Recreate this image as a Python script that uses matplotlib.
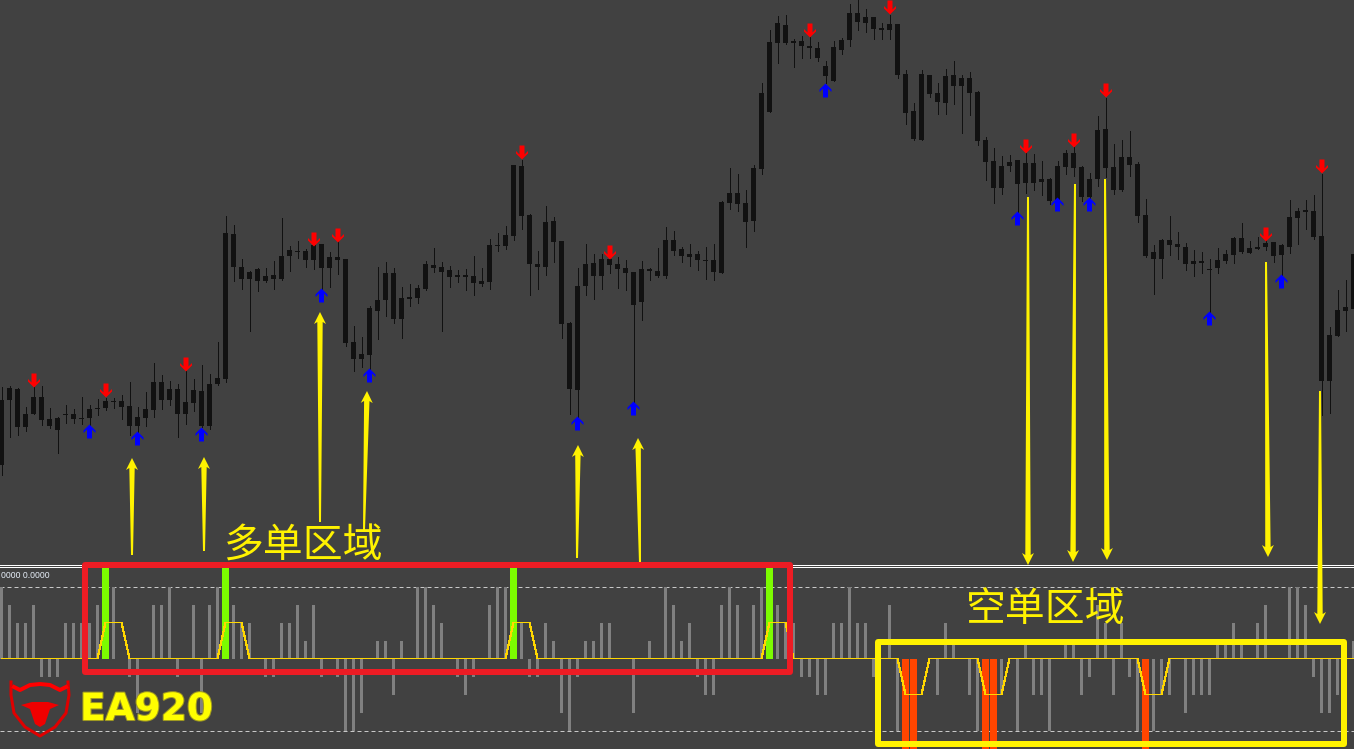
# -*- coding: utf-8 -*-
"""
Candle chart with buy and sell arrows and an indicator window below it.
Prices are given as chart rows, read from the picture (smaller is higher).
"""

import numpy as np
import matplotlib.pyplot as plt
from matplotlib.path import Path
from matplotlib.patches import Polygon, Rectangle
from matplotlib.transforms import Affine2D
import matplotlib.patheffects as path_effects

# Candle data, one entry per bar

CANDLE_HIGH = [387, 386, 388, 407, 387, 386, 408, 417, 405, 409,
               397, 405, 399, 398, 398, 395, 382, 407, 392, 363,
               375, 381, 384, 371, 379, 365, 374, 342, 216, 225,
               259, 271, 268, 268, 261, 218, 246, 241, 249, 240,
               244, 252, 240, 259, 326, 337, 306, 267, 262, 268,
               287, 284, 285, 261, 248, 262, 266, 270, 269, 256,
               268, 239, 233, 226, 165, 160, 214, 251, 206, 217,
               241, 322, 268, 244, 254, 254, 257, 257, 260, 272,
               261, 268, 248, 227, 231, 247, 244, 251, 247, 244,
               201, 168, 174, 190, 165, 83, 30, 16, 15, 39,
               36, 37, 42, 61, 41, 38, 4, 0, 9, 17,
               23, 15, 24, 70, 103, 70, 75, 83, 69, 61,
               75, 72, 91, 137, 148, 156, 155, 160, 153, 154,
               161, 178, 161, 150, 147, 166, 173, 116, 98, 144,
               140, 131, 162, 199, 245, 239, 216, 232, 243, 250,
               252, 259, 248, 250, 237, 223, 241, 237, 240, 242,
               244, 200, 208, 200, 195, 174, 327, 290, 280, 239]
BODY_TOP = [400, 388, 389, 414, 397, 397, 419, 418, 414, 414,
            418, 409, 408, 401, 401, 401, 406, 417, 409, 382,
            382, 389, 389, 402, 390, 391, 384, 378, 233, 234,
            267, 272, 269, 276, 275, 256, 250, 251, 251, 245,
            244, 257, 257, 259, 342, 354, 308, 300, 273, 273,
            298, 297, 288, 264, 265, 267, 270, 275, 275, 276,
            281, 245, 245, 235, 165, 166, 215, 264, 222, 221,
            241, 323, 286, 264, 263, 259, 259, 264, 268, 272,
            269, 269, 271, 240, 240, 249, 254, 254, 260, 260,
            202, 193, 193, 203, 168, 93, 42, 23, 25, 41,
            41, 46, 48, 66, 47, 40, 13, 13, 17, 17,
            28, 24, 24, 74, 111, 74, 75, 93, 76, 75,
            78, 78, 92, 140, 161, 166, 162, 160, 163, 163,
            179, 179, 166, 153, 153, 167, 179, 130, 129, 167,
            157, 157, 164, 215, 252, 240, 240, 244, 247, 261,
            261, 269, 260, 254, 238, 238, 248, 247, 243, 242,
            245, 217, 211, 210, 211, 236, 335, 310, 307, 254]
BODY_BOTTOM = [465, 400, 427, 427, 414, 420, 426, 430, 415, 419,
               419, 418, 409, 408, 402, 407, 426, 426, 418, 410,
               400, 400, 414, 414, 403, 426, 426, 384, 379, 267,
               279, 279, 281, 281, 279, 279, 256, 252, 260, 260,
               268, 268, 260, 343, 359, 359, 355, 311, 300, 319,
               319, 299, 298, 289, 268, 272, 277, 277, 277, 283,
               284, 282, 246, 246, 236, 216, 264, 267, 267, 242,
               324, 389, 390, 286, 276, 276, 265, 269, 273, 305,
               302, 271, 276, 276, 251, 256, 257, 260, 261, 272,
               273, 203, 204, 222, 221, 169, 112, 43, 43, 43,
               46, 48, 58, 76, 81, 50, 40, 22, 23, 29,
               30, 30, 75, 113, 139, 140, 94, 102, 103, 86,
               86, 93, 141, 162, 188, 188, 166, 184, 183, 183,
               182, 201, 200, 167, 168, 197, 197, 179, 168, 190,
               190, 165, 216, 256, 259, 259, 245, 247, 264, 264,
               263, 270, 268, 261, 255, 252, 253, 249, 247, 256,
               255, 247, 218, 212, 237, 381, 381, 336, 311, 309]
CANDLE_LOW = [475, 437, 435, 431, 414, 425, 428, 453, 423, 423,
              424, 425, 415, 410, 408, 419, 435, 432, 426, 417,
              409, 405, 437, 424, 411, 427, 429, 385, 382, 281,
              289, 331, 291, 282, 289, 280, 271, 258, 267, 269,
              289, 287, 274, 346, 371, 367, 370, 339, 316, 323,
              338, 306, 303, 290, 272, 331, 287, 282, 290, 295,
              286, 289, 251, 249, 240, 229, 295, 289, 275, 262,
              338, 414, 417, 295, 299, 289, 273, 288, 290, 403,
              320, 280, 277, 278, 255, 262, 266, 270, 279, 280,
              273, 209, 211, 247, 231, 174, 112, 63, 44, 67,
              58, 58, 61, 83, 81, 54, 46, 30, 32, 39,
              39, 39, 78, 124, 140, 140, 97, 114, 114, 104,
              133, 115, 145, 180, 203, 194, 171, 213, 193, 190,
              195, 204, 200, 174, 176, 201, 200, 186, 177, 194,
              191, 176, 222, 257, 294, 278, 255, 259, 270, 276,
              273, 312, 273, 263, 263, 253, 253, 249, 250, 262,
              275, 253, 244, 229, 239, 415, 413, 336, 331, 314]

# Bars that carry an arrow, with the chart row of the arrow centre

SELL_BARS = [4, 13, 23, 39, 42, 65, 76, 101, 111, 128, 134, 138, 158, 165]
SELL_ROWS = [380, 390, 364, 239, 235, 152, 252, 30, 7, 146, 140, 90, 234, 166]
BUY_BARS = [11, 17, 25, 40, 46, 72, 79, 103, 127, 132, 136, 151, 160]
BUY_ROWS = [431, 438, 434, 295, 375, 423, 408, 90, 218, 204, 204, 318, 281]

# Indicator window

HISTOGRAM = [4, 3, 2, 2, 3, -1, -1, -1, 2, 2,
             2, 2, 3, 0, 4, 0, -1, -3, 0, 3,
             3, 4, -1, 0, 3, -3, 3, 4, 0, 3,
             2, 2, 0, -1, -1, 2, 2, 3, 1, 3,
             -1, 0, -1, -4, -4, -3, 0, 1, 1, -2,
             1, 0, 4, 4, 3, 2, 0, -1, -2, -1,
             0, 3, 4, 4, 0, 2, -1, -1, 2, 1,
             -3, -4, -1, 1, 1, 2, 2, 0, 0, -3,
             0, 1, 0, 4, 3, 1, 2, -1, -2, -2,
             3, 4, 3, 0, 3, 4, 0, 3, 2, 2,
             -1, -1, -2, -2, 2, 2, 4, 2, 2, -1,
             0, 3, -4, 0, 0, 0, 0, -2, 2, 1,
             0, -2, -4, 0, 0, -2, 0, -4, 1, -2,
             -2, -4, 0, 1, 1, -2, -1, 3, 2, -2,
             2, -1, -4, 0, -4, -2, -2, 0, -3, -2,
             -2, -2, 1, 1, 2, 1, 0, 2, 3, 0,
             0, 4, 4, 3, -1, -3, -3, -2, 0, 1]
GREEN_BARS = [13, 28, 64, 96]
ORANGE_BARS = [113, 114, 123, 124, 143]
SIGNAL_BARS = [0, 12, 13, 15, 16, 27, 28, 30, 31, 63, 64, 66, 67, 95, 96, 98,
               99, 112, 113, 115, 116, 122, 123, 125, 126, 142, 143, 145, 146,
               169]
SIGNAL_VALUES = [0, 0, 2, 2, 0, 0, 2, 2, 0, 0, 2, 2, 0, 0, 2, 2,
                 0, 0, -2, -2, 0, 0, -2, -2, 0, 0, -2, -2, 0,
                 0]
LEVELS = [4, -4]

# Hand drawn yellow arrows: tail x, tail y, tip x, tip y

ARROW_TAIL_X = [132, 204, 320, 364, 577, 640, 1028, 1075, 1105, 1266, 1320]
ARROW_TAIL_Y = [555, 551, 522, 530, 558, 563, 197, 184, 179, 262, 391]
ARROW_TIP_X = [132, 204, 320, 367, 578, 638, 1028, 1073, 1107, 1268, 1320]
ARROW_TIP_Y = [458, 457, 312, 391, 445, 438, 565, 562, 560, 557, 624]

# Styles

WIDTH, HEIGHT = 1354, 749
BACKGROUND = '#414141'
CANDLE = '#111111'
YELLOW = '#fff200'
BOX_RED = '#ed1c24'
PIXEL = 0.72  # one pixel in points at dpi 100
FIRST_BAR_X = 1.5
BAR_STEP = 8.

# Function definitions


def arrow_marker():
    """Returns the up arrow as a Path for the markers"""
    return Path([(-0.5, 7), (5.5, 1), (5.5, -1.5), (2, 2), (2, -7), (-3, -7),
                 (-3, 2), (-6.5, -1.5), (-6.5, 1), (-0.5, 7)], closed=True)


def tapered_arrow(axis, tail, tip):
    """Draws a yellow arrow which gets wider towards the head
    axis (matplotlib axes in pixels)
    tail, tip (x, y tuples)
    """
    tail = np.array(tail, dtype=float)
    tip = np.array(tip, dtype=float)
    along = (tip - tail) / np.hypot(*(tip - tail))
    across = np.array([-along[1], along[0]])
    neck = tip - 12. * along
    shaft = neck + 2. * along
    points = [tail + 1. * across, shaft + 2.7 * across, neck + 6. * across,
              tip, neck - 6. * across, shaft - 2.7 * across, tail - 1. * across]
    axis.add_patch(Polygon(points, closed=True, fc=YELLOW, ec='none', zorder=6))


# Main code

FIGURE = plt.figure(figsize=(WIDTH / 100., HEIGHT / 100.), dpi=100,
                    facecolor=BACKGROUND)

BAR_LIMITS = (-FIRST_BAR_X / BAR_STEP, (WIDTH - FIRST_BAR_X) / BAR_STEP)
BARS = np.arange(len(CANDLE_HIGH))

# Price window, its rows are the same as pixel rows

PRICE = FIGURE.add_axes([0, 0, 1, 1], facecolor='none')
PRICE.set_xlim(BAR_LIMITS)
PRICE.set_ylim(HEIGHT, 0)
PRICE.axis('off')

PRICE.vlines(BARS, CANDLE_HIGH, CANDLE_LOW, colors=CANDLE, linewidth=PIXEL,
             antialiased=False, zorder=2)
PRICE.bar(BARS, np.array(BODY_BOTTOM) - np.array(BODY_TOP), bottom=BODY_TOP,
          width=5. / BAR_STEP, color=CANDLE, linewidth=0, antialiased=False,
          zorder=3)

UP_ARROW = arrow_marker().transformed(Affine2D().translate(-0.5, 0))
DOWN_ARROW = arrow_marker().transformed(Affine2D().scale(1, -1))
PRICE.plot(SELL_BARS, SELL_ROWS, linestyle='none', marker=DOWN_ARROW,
           markersize=14 * PIXEL, color='#ff0000', markeredgewidth=0, zorder=4)
PRICE.plot(BUY_BARS, BUY_ROWS, linestyle='none', marker=UP_ARROW,
           markersize=14 * PIXEL, color='#0000ff', markeredgewidth=0, zorder=4)

# Indicator window, 18 pixels per unit around the zero line at row 658

INDICATOR = FIGURE.add_axes([0, 0, 1, (HEIGHT - 568.) / HEIGHT],
                            facecolor='none')
INDICATOR.set_xlim(BAR_LIMITS)
INDICATOR.set_ylim((658.5 - HEIGHT) / 18., (658.5 - 568.) / 18.)
INDICATOR.axis('off')

INDICATOR.bar(BARS, HISTOGRAM, width=3. / BAR_STEP, color='#808080',
              linewidth=0, antialiased=False, zorder=2)
INDICATOR.bar(GREEN_BARS, [6] * len(GREEN_BARS), width=7. / BAR_STEP,
              color='#7cfc00', linewidth=0, antialiased=False, zorder=3)
INDICATOR.bar(ORANGE_BARS, [-6] * len(ORANGE_BARS), width=7. / BAR_STEP,
              color='#ff4500', linewidth=0, antialiased=False, zorder=3)
INDICATOR.plot(SIGNAL_BARS, SIGNAL_VALUES, c='#ffd700', linewidth=PIXEL,
               antialiased=False, zorder=4)
for level in LEVELS:
    INDICATOR.axhline(level, c='#c8c8c8', linewidth=PIXEL, dashes=[4, 3],
                      zorder=1)

# Everything drawn over the chart, in pixels

OVERLAY = FIGURE.add_axes([0, 0, 1, 1], facecolor='none')
OVERLAY.set_xlim(0, WIDTH)
OVERLAY.set_ylim(HEIGHT, 0)
OVERLAY.axis('off')

OVERLAY.hlines([565, 567], 0, WIDTH, colors='white', linewidth=PIXEL,
               antialiased=False, zorder=1)
OVERLAY.text(1, 576, '0000 0.0000', color='#e8f0fa', fontsize=6.2,
             family='Liberation Sans', va='center', ha='left', zorder=5)

for index, tail_x in enumerate(ARROW_TAIL_X):
    tapered_arrow(OVERLAY, (tail_x, ARROW_TAIL_Y[index]),
                  (ARROW_TIP_X[index], ARROW_TIP_Y[index]))

OVERLAY.add_patch(Rectangle((85, 564.5), 705, 107.5, fc='none', ec=BOX_RED,
                            linewidth=6 * PIXEL, joinstyle='round', zorder=7))
OVERLAY.add_patch(Rectangle((878, 642), 466, 102, fc='none', ec=YELLOW,
                            linewidth=6 * PIXEL, joinstyle='round', zorder=7))

CJK = ['Noto Sans CJK SC', 'DejaVu Sans']
OVERLAY.text(303, 547, '多单区域', color=YELLOW, fontsize=28.7, family=CJK,
             ha='center', va='center', zorder=8)
OVERLAY.text(1046, 610, '空单区域', color=YELLOW, fontsize=28.7, family=CJK,
             ha='center', va='center', zorder=8)

# Logo

SHIELD_X = [11, 11, 14, 25, 40, 55, 66, 69, 68]
SHIELD_Y = [682, 695, 713, 727, 736, 727, 713, 695, 682]
HORNS_X = [14, 20, 30, 40, 50, 60, 66]
HORNS_Y = [687, 690, 685, 684, 685, 690, 687]
HEAD_X = [21, 32, 48, 59, 50, 45, 40, 35, 30]
HEAD_Y = [705, 702, 702, 705, 709, 724, 727, 724, 709]
OVERLAY.plot(SHIELD_X, SHIELD_Y, c='#e00000', linewidth=3 * PIXEL, zorder=9)
OVERLAY.plot(HORNS_X, HORNS_Y, c='#ff0000', linewidth=4 * PIXEL, zorder=9)
OVERLAY.add_patch(Polygon(np.column_stack((HEAD_X, HEAD_Y)), closed=True,
                          fc='#f00000', ec='none', zorder=9))
OVERLAY.text(80, 710, 'EA920', color='#ffff00', fontsize=27, weight='bold',
             family='DejaVu Sans', ha='left', va='center', zorder=9,
             path_effects=[path_effects.withStroke(linewidth=1.5,
                                                   foreground='#a09a20')])

plt.savefig('out.png', dpi=100, facecolor=BACKGROUND)
